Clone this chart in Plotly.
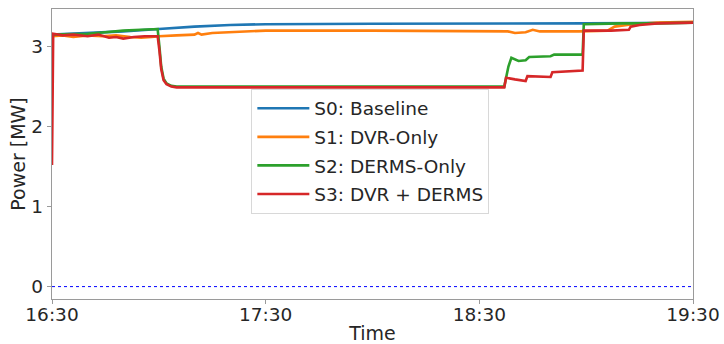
import plotly.graph_objects as go

DAY = "2021-07-01 "

# S0: Baseline
s0_t = ["16:30", "16:40", "16:50", "17:00", "17:10", "17:20", "17:30", "18:00", "18:58", "19:00", "19:15", "19:30"]
s0_v = [3.15, 3.17, 3.19, 3.22, 3.25, 3.27, 3.28, 3.285, 3.285, 3.29, 3.295, 3.30]

# S1: DVR-Only
s1_t = ["16:30", "16:33", "16:36", "16:40", "16:44", "16:48", "16:52", "16:55", "16:58", "17:00",
        "17:05", "17:10", "17:11", "17:12", "17:15", "17:20", "17:25", "17:30", "18:00", "18:38",
        "18:40", "18:43", "18:45", "18:47", "18:58", "19:06", "19:08", "19:10", "19:13", "19:20", "19:30"]
s1_v = [3.13, 3.14, 3.12, 3.14, 3.13, 3.14, 3.12, 3.11, 3.12, 3.13,
        3.14, 3.15, 3.17, 3.15, 3.17, 3.18, 3.19, 3.20, 3.20, 3.19,
        3.17, 3.18, 3.21, 3.19, 3.19, 3.20, 3.25, 3.26, 3.28, 3.30, 3.31]

# S2: DERMS-Only
s2_t = ["16:30", "16:40", "16:45", "16:50", "16:55", "16:59:40", "17:00:10", "17:00:40", "17:01:20",
        "17:02:10", "17:03:30", "17:05", "18:37", "18:37:30", "18:38:10", "18:39", "18:40", "18:41",
        "18:43", "18:44", "18:50", "18:51", "18:59", "18:59:20", "19:10", "19:20", "19:30"]
s2_v = [3.15, 3.16, 3.18, 3.20, 3.21, 3.22, 3.00, 2.75, 2.60, 2.54, 2.51, 2.50, 2.50, 2.62, 2.75,
        2.86, 2.84, 2.82, 2.83, 2.87, 2.88, 2.90, 2.90, 3.28, 3.29, 3.29, 3.30]

# S3: DVR + DERMS
s3_t = ["16:30", "16:30:20", "16:33", "16:36", "16:40", "16:43", "16:46", "16:48", "16:50", "16:53",
        "16:56", "16:59:40", "17:00:10", "17:00:40", "17:01:20", "17:02:10", "17:03:30", "17:05",
        "18:37", "18:37:30", "18:40", "18:43", "18:43:30", "18:50", "18:50:30", "18:55", "18:57",
        "18:59", "18:59:20", "19:07", "19:12", "19:12:30", "19:15", "19:20", "19:30"]
s3_v = [1.52, 3.16, 3.14, 3.15, 3.13, 3.15, 3.11, 3.12, 3.10, 3.12,
        3.13, 3.13, 2.95, 2.72, 2.58, 2.53, 2.50, 2.49,
        2.49, 2.61, 2.59, 2.57, 2.63, 2.62, 2.68, 2.69, 2.70,
        2.70, 3.20, 3.20, 3.21, 3.25, 3.27, 3.29, 3.30]

tick_labels = ["16:30", "17:30", "18:30", "19:30"]

series = [
    ("S0: Baseline", s0_t, s0_v, "#1f77b4"),
    ("S1: DVR-Only", s1_t, s1_v, "#ff7f0e"),
    ("S2: DERMS-Only", s2_t, s2_v, "#2ca02c"),
    ("S3: DVR + DERMS", s3_t, s3_v, "#d62728"),
]

fig = go.Figure()

# zero reference line
fig.add_trace(go.Scatter(x=[DAY + "16:30", DAY + "19:30"], y=[0, 0], mode="lines",
                         line=dict(color="blue", width=1, dash="dot"),
                         showlegend=False, hoverinfo="skip"))

for name, t, v, c in series:
    fig.add_trace(go.Scatter(x=[DAY + s for s in t], y=v, mode="lines", name=name,
                             legendgroup=name,
                             line=dict(color=c, width=2.6)))

axis_common = dict(showline=True, linecolor="#9a9a9a", linewidth=1.3, mirror=True,
                   showgrid=False, zeroline=False, ticks="outside", ticklen=4,
                   tickcolor="#9a9a9a", automargin=False,
                   tickfont=dict(size=18.5, color="#262626"))

fig.update_layout(
    width=724, height=344,
    margin=dict(l=52, r=31, t=9, b=45),
    paper_bgcolor="white", plot_bgcolor="white",
    font=dict(family="DejaVu Sans", color="#262626"),
    xaxis=dict(range=[DAY + "16:30", DAY + "19:30"], tickvals=[DAY + s for s in tick_labels],
               ticktext=tick_labels, ticklabelstandoff=-5,
               title=dict(text="Time", font=dict(size=19), standoff=4),
               **axis_common),
    yaxis=dict(range=[-0.155, 3.47], tickvals=[0, 1, 2, 3],
               title=dict(text="Power [MW]", font=dict(size=19), standoff=0),
               **axis_common),
    legend=dict(x=0.311, y=0.725, xanchor="left", yanchor="top",
                bgcolor="rgba(255,255,255,0.85)", bordercolor="#d8d8d8", borderwidth=1,
                font=dict(size=18.5, color="#262626"), itemwidth=52,
                tracegroupgap=1.5),
)

fig.write_html("out.html")
